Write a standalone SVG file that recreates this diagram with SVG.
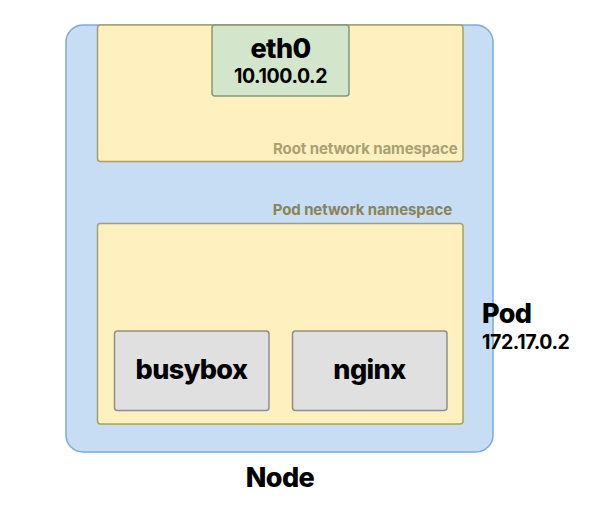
<svg xmlns="http://www.w3.org/2000/svg" width="615" height="518" viewBox="0 0 615 518">
  <style>
    text { font-family: Inter, "Liberation Sans", sans-serif; font-weight: 800; fill: #000; }
    .big { font-size: 27px; letter-spacing: -0.6px; }
    .ip { font-size: 19.5px; font-weight: 700; letter-spacing: -0.4px; }
    .ns { font-size: 15px; font-weight: 700; text-anchor: end; letter-spacing: -0.1px; }
    .mid { text-anchor: middle; }
    .yellow { fill: #fff0c0; stroke: #ab9f62; stroke-width: 1.5; }
    .box { fill: #e0e0e0; stroke: #8e8e8e; stroke-width: 1.5; }
  </style>
  <rect width="615" height="518" fill="#ffffff"/>
  <g id="node">
    <rect x="66" y="25" width="427" height="427" rx="17" fill="#c7ddf3" stroke="#7ea8e0" stroke-width="1.5"/>
    <text class="big mid" x="280" y="487">Node</text>
  </g>
  <g id="root-ns">
    <rect class="yellow" x="97.5" y="25" width="365.5" height="136.5" rx="3"/>
    <text class="ns" x="457.5" y="153.5" style="fill:#a9a172">Root network namespace</text>
  </g>
  <g id="eth0">
    <rect x="212" y="25" width="137" height="71" rx="3" fill="#d3e5cb" stroke="#8a9777" stroke-width="1.5"/>
    <text class="big mid" x="280.5" y="58">eth0</text>
    <text class="ip mid" x="280.5" y="82.5">10.100.0.2</text>
  </g>
  <g id="pod">
    <text class="ns" x="452" y="215" style="fill:#8a8456">Pod network namespace</text>
    <rect class="yellow" x="97.5" y="223.5" width="365.5" height="200.5" rx="3"/>
    <text class="big" x="482" y="322.5">Pod</text>
    <text class="ip" x="482" y="349">172.17.0.2</text>
  </g>
  <g id="busybox">
    <rect class="box" x="114.5" y="331" width="154.5" height="79.5" rx="3"/>
    <text class="big mid" x="191.5" y="379">busybox</text>
  </g>
  <g id="nginx">
    <rect class="box" x="292.5" y="331" width="154.5" height="79.5" rx="3"/>
    <text class="big mid" x="369.5" y="379">nginx</text>
  </g>
  <g id="connectors"></g>
</svg>
